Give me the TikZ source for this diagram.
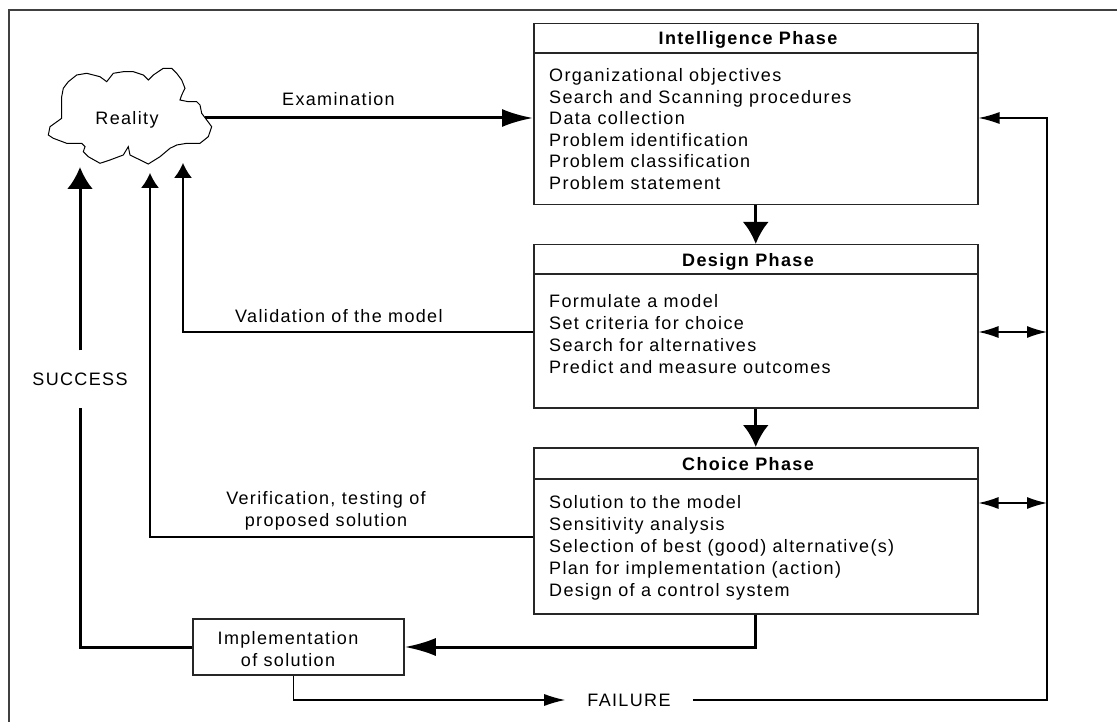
\documentclass[tikz,border=0pt]{standalone}
\usepackage{fontspec}
\setmainfont{Liberation Sans}[LetterSpace=7.5]
\usetikzlibrary{arrows.meta,calc}

\begin{document}
\begin{tikzpicture}[x=1pt,y=-1pt,
  every node/.style={font=\fontsize{18pt}{21.8pt}\selectfont, inner sep=0pt},
  phase/.style={draw=black!85, line width=1.5pt, rectangle, anchor=north west, minimum width=444pt},
  title/.style={font=\fontsize{18pt}{21.8pt}\selectfont\bfseries, anchor=base},
  item/.style={anchor=base west},
  thinline/.style={line width=1.3pt},
  thickline/.style={line width=3pt},
  headV/.style={-{Latex[length=22pt,width=26pt]}},
  headH/.style={-{Latex[length=31pt,width=18pt]}},
  headUp/.style={-{Latex[length=15pt,width=18pt]}},
  headS/.style={-{Latex[length=21pt,width=12pt]}},
  bothS/.style={{Latex[length=20pt,width=12pt]}-{Latex[length=20pt,width=12pt]}},
]
\useasboundingbox (0,0) rectangle (1117,722);
\fill[white] (0,0) rectangle (1117,722);

% outer frame
\draw[line width=1.5pt, black!75] (9,722) -- (9,10) -- (1117,10);

% reality cloud
\draw[line width=1pt] plot coordinates {
 (61.7,118.3) (50,126.7) (48.3,135) (53.3,138.3) (66.7,143.3) (81.7,143.3)
 (85,146.7) (83.3,151.7) (88.3,156.7) (100,163.3) (110,160) (123.3,155)
 (128.3,146.7) (130,155) (148.3,164) (160,156.7) (170,148.3) (176.7,145)
 (186.7,143.3) (200,143.3) (208.3,136.7) (211.7,126.7) (206.7,120) (201.7,113.3)
 (200,105) (196.7,101.7) (188.3,101.7) (180,100) (181.7,95) (185,88.3)
 (181.7,80) (176.7,73.3) (171.7,68.3) (163.3,68.3) (153.3,75) (148.3,80)
 (143.3,75) (133.3,71.7) (123.3,71.7) (113.3,73.3) (106.7,81.7) (100,76.7)
 (86.7,73.3) (76.7,75) (68.3,81.7) (63.3,88.3) (61.7,96.7)} -- cycle;
\node[anchor=base] (reality) at (127,125) {Reality};

\coordinate (cloudR) at (205,118);
\coordinate (succTip) at (80,167);
\coordinate (verTip) at (150,173);
\coordinate (valTip) at (183,163);
\coordinate (valY) at (0,332);
\coordinate (verY) at (0,537);
\coordinate (loopTop) at (1047,118);
\coordinate (loopD) at (1047,332);
\coordinate (loopC) at (1047,503);

% phase boxes
\node[phase, minimum height=181pt] (intel) at (533,23) {};
\node[phase, minimum height=163pt] (design) at (533,244) {};
\node[phase, minimum height=166pt] (choice) at (533,447) {};
\draw[line width=1.5pt, black!85] ([yshift=-30pt]intel.north west) -- ([yshift=-30pt]intel.north east);
\draw[line width=1.5pt, black!85] ([yshift=-30pt]design.north west) -- ([yshift=-30pt]design.north east);
\draw[line width=1.5pt, black!85] ([yshift=-32pt]choice.north west) -- ([yshift=-32pt]choice.north east);

\node[title] (intelT) at (748,45) {Intelligence Phase};
\node[title] (designT) at (748,266) {Design Phase};
\node[title] (choiceT) at (748,470) {Choice Phase};

\foreach \t [count=\i from 0] in {Organizational objectives, Search and Scanning procedures,
    Data collection, Problem identification, Problem classification, Problem statement}
  \node[item] (intelI\i) at (549,81.5+21.6*\i) {\t};
\foreach \t [count=\i from 0] in {Formulate a model, Set criteria for choice,
    Search for alternatives, Predict and measure outcomes}
  \node[item] (designI\i) at (549,308+21.8*\i) {\t};
\foreach \t [count=\i from 0] in {Solution to the model, Sensitivity analysis,
    Selection of best (good) alternative(s), Plan for implementation (action),
    Design of a control system}
  \node[item] (choiceI\i) at (549,508+22*\i) {\t};

% implementation box and its text
\node[draw=black!85, line width=1.5pt, minimum width=211pt, minimum height=56pt]
  (impl) at (298.5,647) {};
\node[align=center] (implT) at (288,649) {Implementation\\of solution};

% labels
\node[minimum height=57pt] (success) at (80,379) {SUCCESS};
\node[anchor=base west] (examL) at (282,106) {Examination};
\node[anchor=base west] (valL) at (235,323) {Validation of the model};
\node[align=center] (verL) at (326,511) {Verification, testing of\\proposed solution};
\node[inner xsep=22pt] (failure) at (629,700) {FAILURE};

% connectors
\draw[thickline, headH] (cloudR) -- (intel.west |- cloudR);
\draw[thickline, headV] (intel.south) -- (design.north);
\draw[thickline, headV] (design.south) -- (choice.north);
\draw[thickline, headH] (choice.south) |- (impl.east);
\draw[thickline] (impl.west) -| (success.south);
\draw[thickline, headV] (success.north) -- (succTip);
\draw[thinline, headUp] (design.west |- valY) -| (valTip);
\draw[thinline, headUp] (choice.west |- verY) -| (verTip);
\draw[thinline, bothS] (design.east |- loopD) -- (loopD);
\draw[thinline, bothS] (choice.east |- loopC) -- (loopC);
\draw[thinline, headS] ([xshift=-5pt]impl.south) |- (failure.west);
\draw[thinline, headS] (failure.east) -| (loopTop) -- (intel.east |- loopTop);
\end{tikzpicture}
\end{document}
